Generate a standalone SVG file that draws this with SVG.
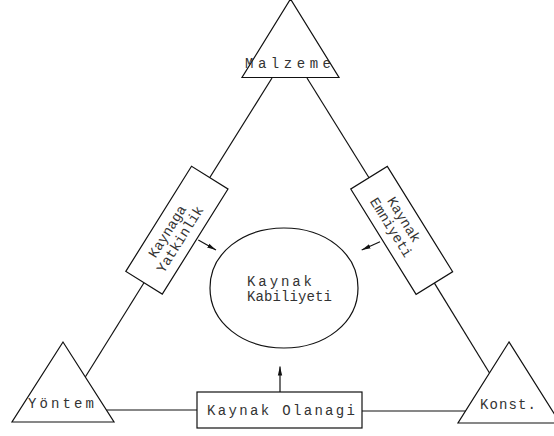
<svg xmlns="http://www.w3.org/2000/svg" width="554" height="436" viewBox="0 0 554 436">
<style>
.s{fill:none;stroke:#111;stroke-width:1.2}
.b{fill:#fff;stroke:#111;stroke-width:1.2}
text{font-family:"Liberation Mono","DejaVu Sans Mono",monospace;font-size:14px;fill:#333}
.m{text-anchor:middle}
</style>
<defs>
<marker id="ah" markerWidth="10" markerHeight="6" refX="9" refY="3" orient="auto" markerUnits="userSpaceOnUse">
<path d="M0,0.8 L9,3 L0,5.2 Z" fill="#111"/>
</marker>
</defs>
<rect width="554" height="436" fill="#fff"/>
<g id="connectors">
<line class="s" x1="272" y1="78" x2="209.5" y2="178"/>
<line class="s" x1="144.3" y1="282.3" x2="85.3" y2="377"/>
<line class="s" x1="307" y1="78" x2="369" y2="177.7"/>
<line class="s" x1="434.4" y1="283.1" x2="489.5" y2="373"/>
<line class="s" x1="106.4" y1="410" x2="197" y2="410"/>
<line class="s" x1="362" y1="411" x2="466" y2="411"/>
<line class="s" x1="198.3" y1="240" x2="216" y2="250" marker-end="url(#ah)"/>
<line class="s" x1="380" y1="241.7" x2="361.7" y2="250" marker-end="url(#ah)"/>
<line class="s" x1="280" y1="392" x2="280" y2="366.5" marker-end="url(#ah)"/>
</g>
<g id="malzeme">
<polygon class="b" points="290.5,-1 242,77.5 339,77.5"/>
<text x="245" y="68" textLength="86" lengthAdjust="spacing">Malzeme</text>
</g>
<g id="yontem">
<polygon class="b" points="63,342 12,422 114,422"/>
<text x="28" y="408" textLength="66" lengthAdjust="spacing">Yöntem</text>
</g>
<g id="konst">
<polygon class="b" points="509,342 458,423 560,423"/>
<text x="480" y="409" textLength="56" lengthAdjust="spacing">Konst.</text>
</g>
<g id="kaynak-olanagi">
<rect class="b" x="197" y="392" width="165" height="36"/>
<text x="207" y="415" textLength="148" lengthAdjust="spacing">Kaynak Olanagi</text>
</g>
<g id="kaynak-kabiliyeti">
<path class="s" d="M210,288 C210,253 243,228 284,228 C325,228 358,253 358,288 C358,323 325,348 284,348 C243,348 210,323 210,288 Z"/>
<text x="247" y="286" textLength="65" lengthAdjust="spacing">Kaynak</text>
<text x="247" y="301" textLength="85" lengthAdjust="spacing">Kabiliyeti</text>
</g>
<g id="kaynaga-yatkinlik" transform="translate(176.9,230.2) rotate(-58)">
<rect class="b" x="-62" y="-21.5" width="124" height="43"/>
<text class="m" x="-6" y="-3">Kaynaga</text>
<text class="m" x="-6" y="12">Yatkinlik</text>
</g>
<g id="kaynak-emniyeti" transform="translate(401.7,230.4) rotate(58.2)">
<rect class="b" x="-62" y="-21.5" width="124" height="43"/>
<text class="m" x="-8" y="-3">Kaynak</text>
<text class="m" x="-8" y="12">Emniyeti</text>
</g>
</svg>
